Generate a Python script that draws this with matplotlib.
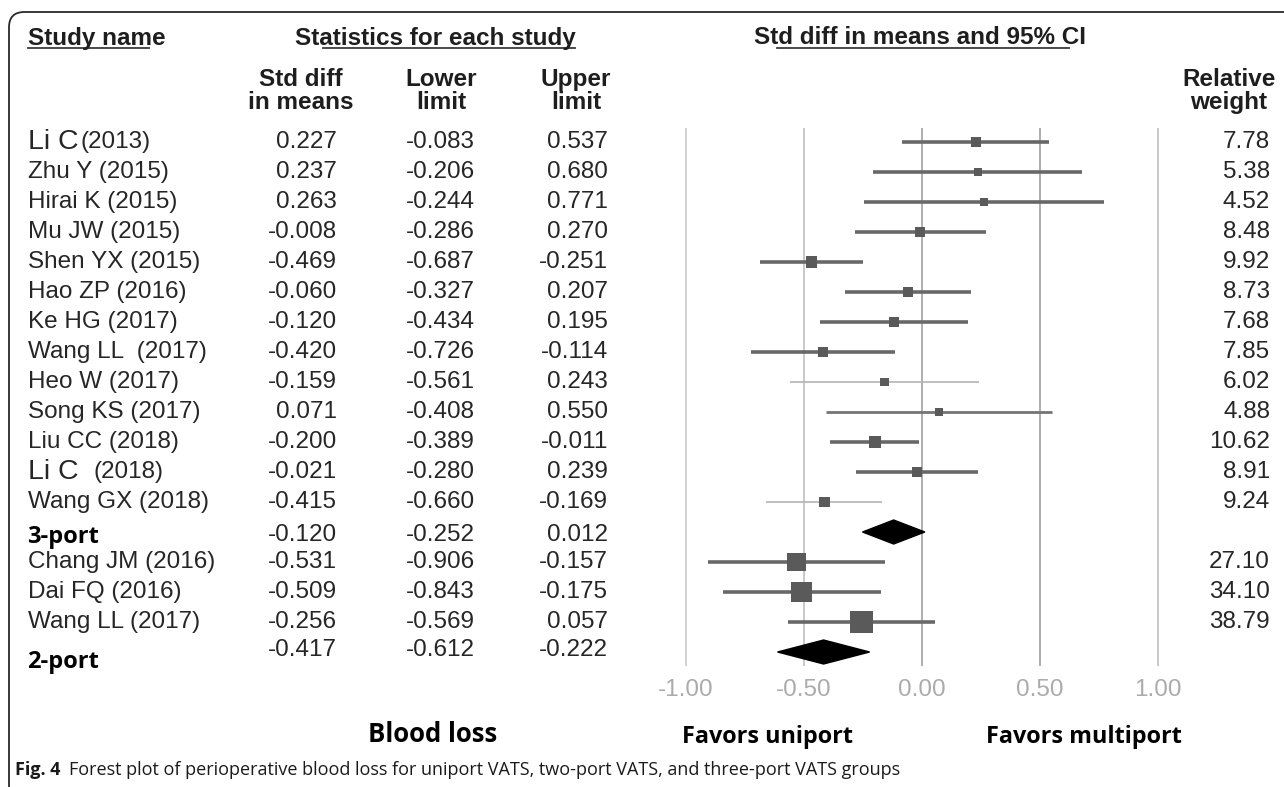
import matplotlib
matplotlib.use("Agg")
import matplotlib.pyplot as plt
from matplotlib.transforms import blended_transform_factory
from matplotlib.patches import FancyBboxPatch, Polygon
from matplotlib.lines import Line2D

# ---------------- data ----------------
authors_3 = ["Li C", "Zhu Y", "Hirai K", "Mu JW", "Shen YX", "Hao ZP", "Ke HG",
             "Wang LL ", "Heo W", "Song KS", "Liu CC", "Li C", "Wang GX"]
years_3 = ["(2013)", "(2015)", "(2015)", "(2015)", "(2015)", "(2016)", "(2017)",
           "(2017)", "(2017)", "(2017)", "(2018)", "(2018)", "(2018)"]
est_3 = [0.227, 0.237, 0.263, -0.008, -0.469, -0.060, -0.120, -0.420, -0.159, 0.071, -0.200, -0.021, -0.415]
low_3 = [-0.083, -0.206, -0.244, -0.286, -0.687, -0.327, -0.434, -0.726, -0.561, -0.408, -0.389, -0.280, -0.660]
up_3 = [0.537, 0.680, 0.771, 0.270, -0.251, 0.207, 0.195, -0.114, 0.243, 0.550, -0.011, 0.239, -0.169]
wt_3 = [7.78, 5.38, 4.52, 8.48, 9.92, 8.73, 7.68, 7.85, 6.02, 4.88, 10.62, 8.91, 9.24]
pooled_3 = (-0.120, -0.252, 0.012)

authors_2 = ["Chang JM", "Dai FQ", "Wang LL"]
years_2 = ["(2016)", "(2016)", "(2017)"]
est_2 = [-0.531, -0.509, -0.256]
low_2 = [-0.906, -0.843, -0.569]
up_2 = [-0.157, -0.175, 0.057]
wt_2 = [27.10, 34.10, 38.79]
pooled_2 = (-0.417, -0.612, -0.222)

xticks = [-1.0, -0.5, 0.0, 0.5, 1.0]
xtick_labels = ["-1.00", "-0.50", "0.00", "0.50", "1.00"]

# ---------------- styles ----------------
W, H = 1284, 787
ARIAL = "Liberation Sans"
OPEN = "Open Sans"
FS = 17.5
TXT = "#262626"
line_styles_3 = [("#686868", 2.6)] * 8 + [("#b4b4b4", 1.2), ("#747474", 2.0), ("#686868", 2.6), ("#686868", 2.6), ("#b4b4b4", 1.2)]
line_styles_2 = [("#686868", 2.6)] * 3

fig = plt.figure(figsize=(W / 100, H / 100), dpi=100)
ax = fig.add_axes([0, 0, 1, 1])
PX_PER_UNIT = 236.0
X0_PX = 686.0  # pixel position of -1
xmin = -1 - X0_PX / PX_PER_UNIT
ax.set_xlim(xmin, xmin + W / PX_PER_UNIT)
ROW0 = 142.0
ROWH = 30.0
ax.set_ylim((H - ROW0) / ROWH, -ROW0 / ROWH)
ax.axis("off")

tx = blended_transform_factory(fig.transFigure, ax.transData)   # x in fig fraction, y rows
def fx(px):
    return px / W
def fy(py):
    return 1 - py / H

# rows
rows_3 = list(range(len(est_3)))
row_p3 = len(est_3)
rows_2 = [row_p3 + 1 + i for i in range(len(est_2))]
row_p2 = rows_2[-1] + 1

# gridlines
grid_colors = ["#cfcfcf", "#c4c4c4", "#a8a8a8", "#a8a8a8", "#c4c4c4"]
for xv, gc in zip(xticks, grid_colors):
    ax.vlines(xv, -0.47, row_p2 + 0.45, color=gc, lw=1.3, zorder=1)
for xv, lab in zip(xticks, xtick_labels):
    ax.text(xv, (690 - ROW0) / ROWH, lab, ha="center", va="center", fontsize=FS,
            family=ARIAL, color="#ababab")

# studies
def draw_group(rows, est, low, up, wt, styles):
    for r, e, lo, hi, (c, lw) in zip(rows, est, low, up, styles):
        ax.plot([lo, hi], [r, r], color=c, lw=lw, solid_capstyle="butt", zorder=2)
    ax.scatter(est, rows, s=[6.7 * w for w in wt], marker="s", color="#5a5a5a",
               linewidths=0, zorder=3)

draw_group(rows_3, est_3, low_3, up_3, wt_3, line_styles_3)
draw_group(rows_2, est_2, low_2, up_2, wt_2, line_styles_2)

def diamond(row, pooled):
    e, lo, hi = pooled
    ax.add_patch(Polygon([[lo, row], [e, row - 0.4], [hi, row], [e, row + 0.4]],
                         closed=True, color="black", zorder=4))
diamond(row_p3, pooled_3)
diamond(row_p2, pooled_2)

# table text
COL_R = [337, 475, 608]
COL_C = [301, 441, 576]
def fmt(v):
    return "%.3f" % v

fig.canvas.draw()
renderer = fig.canvas.get_renderer()

def study_label(row, author, year):
    if author == "Li C":
        t = ax.text(fx(28), row, "Li C", transform=tx, fontsize=20.5, family=ARIAL,
                    color=TXT, va="center")
        bb = t.get_window_extent(renderer)
        gap = 2 if year == "(2013)" else 15
        ax.text(fx(bb.x1 + gap), row, year, transform=tx, fontsize=FS, family=ARIAL,
                color=TXT, va="center")
    else:
        ax.text(fx(28), row, author + " " + year, transform=tx, fontsize=FS, family=ARIAL,
                color=TXT, va="center")

for r, a, y in zip(rows_3, authors_3, years_3):
    study_label(r, a, y)
for r, a, y in zip(rows_2, authors_2, years_2):
    study_label(r, a, y)

def num_row(row, vals, weight=None):
    for v, cr in zip(vals, COL_R):
        ax.text(fx(cr), row, fmt(v), transform=tx, ha="right", va="center", fontsize=FS,
                family=ARIAL, color=TXT)
    if weight is not None:
        ax.text(fx(1270), row, "%.2f" % weight, transform=tx, ha="right", va="center",
                fontsize=FS, family=ARIAL, color=TXT)

for r, e, lo, hi, w in zip(rows_3, est_3, low_3, up_3, wt_3):
    num_row(r, (e, lo, hi), w)
num_row(row_p3 + 0.1, pooled_3)
for r, e, lo, hi, w in zip(rows_2, est_2, low_2, up_2, wt_2):
    num_row(r, (e, lo, hi), w)
num_row(row_p2 - 0.07, pooled_2)

ax.text(fx(27), row_p3 + 0.18, "3-port", transform=tx, fontsize=17, family=OPEN,
        weight="bold", color="black", va="center")
ax.text(fx(27), row_p2 + 0.35, "2-port", transform=tx, fontsize=17, family=OPEN,
        weight="bold", color="black", va="center")

# headers
hdr_kw = dict(fontsize=FS, family=ARIAL, weight="bold", color="#1e1e1e")
h1 = fig.text(fx(28), fy(38), "Study name", ha="left", va="center", **hdr_kw)
h2 = fig.text(fx(435), fy(38), "Statistics for each study", ha="center", va="center", **hdr_kw)
h3 = fig.text(fx(920), fy(38), "Std diff in means and 95% CI", ha="center", va="center", **hdr_kw)
sub = [("Std diff\nin means", COL_C[0]), ("Lower\nlimit", COL_C[1]), ("Upper\nlimit", COL_C[2]),
       ("Relative\nweight", 1229)]
for s, cx in sub:
    fig.text(fx(cx), fy(91), s, ha="center", va="center", linespacing=0.95, **hdr_kw)

fig.canvas.draw()
for t, f0, f1 in [(h1, 0.0, 0.88), (h2, 0.1, 1.0), (h3, 0.07, 0.95)]:
    bb = t.get_window_extent(renderer)
    x0 = bb.x0 + f0 * bb.width
    x1 = bb.x0 + f1 * bb.width
    yb = bb.y0 + 2
    fig.add_artist(Line2D([x0 / W, x1 / W], [yb / H, yb / H], transform=fig.transFigure,
                          color="#3a3a3a", lw=1.3))

# bottom labels
bot_kw = dict(family=OPEN, weight="bold", color="black", ha="center", va="center")
fig.text(fx(433), fy(735), "Blood loss", fontsize=18.5, **bot_kw)
fig.text(fx(767), fy(737), "Favors uniport", fontsize=16.8, **bot_kw)
fig.text(fx(1084), fy(737), "Favors multiport", fontsize=16.8, **bot_kw)

# caption
cap = fig.text(fx(15), fy(770), "Fig. 4", fontsize=13, family=OPEN, weight="bold",
               color="#1a1a1a", ha="left", va="center")
fig.canvas.draw()
cb = cap.get_window_extent(renderer)
fig.text((cb.x1 + 9) / W, fy(770),
         "Forest plot of perioperative blood loss for uniport VATS, two-port VATS, and three-port VATS groups",
         fontsize=13, family=OPEN, color="#1a1a1a", ha="left", va="center")

# frame
fig.add_artist(FancyBboxPatch((9 / W, fy(800)), 1.2, (800 - 12) / H,
                              boxstyle="round,pad=0,rounding_size=0.012",
                              transform=fig.transFigure, fill=False, ec="#2a2a2a", lw=1.3,
                              mutation_aspect=W / H))

fig.savefig("out.png", dpi=100)
